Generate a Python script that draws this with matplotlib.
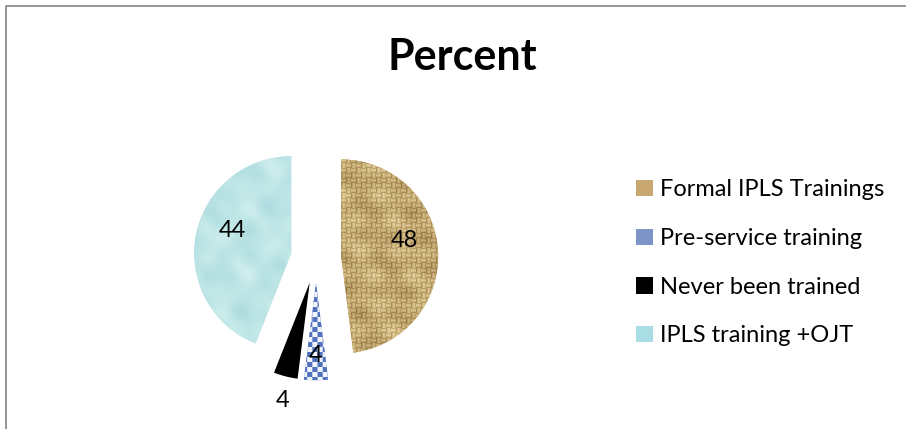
import numpy as np
import matplotlib
matplotlib.use("Agg")
import matplotlib.pyplot as plt
from matplotlib.patches import Patch
from matplotlib.lines import Line2D
from matplotlib.colors import to_rgb

# ---- data -------------------------------------------------------------
categories = ["Formal IPLS Trainings", "Pre-service training",
              "Never been trained", "IPLS training +OJT"]
values = [48, 4, 4, 44]
title = "Percent"

# ---- figure / axes geometry (pixels) ---------------------------------
W, H = 906, 429
R_PX = 97          # pie radius in pixels
LIM = 1.65         # half-range of the pie axes in radius units
CX, CY = 316, 258  # pie centre, pixels from top-left

FONT = ["Lato", "DejaVu Sans"]
plt.rcParams["font.family"] = FONT

fig = plt.figure(figsize=(W / 100, H / 100), dpi=100)
ax = fig.add_axes([(CX - LIM * R_PX) / W, (H - CY - LIM * R_PX) / H,
                   2 * LIM * R_PX / W, 2 * LIM * R_PX / H])

base_colors = ["#c6a96f", "#5b79c2", "#000000", "#b2e1e5"]
wedges, _ = ax.pie(values, startangle=90, counterclock=False,
                   explode=[0.26] * len(values), colors=base_colors,
                   radius=1, wedgeprops=dict(linewidth=0))
ax.set_xlim(-LIM, LIM)
ax.set_ylim(-LIM, LIM)
ax.set_aspect("equal", adjustable="box")
ax.axis("off")


# ---- fill textures ----------------------------------------------------
def mix(c0, c1, t):
    c0 = np.array(to_rgb(c0)); c1 = np.array(to_rgb(c1))
    t = np.clip(t, 0, 1)[..., None]
    return c0 + (c1 - c0) * t


def burlap(X, Y):
    p = 5.0
    cell = (np.floor(X / p) + np.floor(Y / p)) % 2
    thread = np.where(cell == 0, np.abs(np.sin(np.pi * Y / p)),
                      np.abs(np.sin(np.pi * X / p)))
    low = (np.sin(X / 13.0 + Y / 7.0) * np.sin(Y / 11.0 - X / 17.0)
           + 0.5 * np.sin(X / 5.3 - 0.4) * np.sin(Y / 6.1 + 1.1))
    return mix("#8c6c34", "#ead5a0", 0.22 + 0.55 * thread + 0.15 * low)


def checker(X, Y):
    s = 5.0
    c = (np.floor(X / s) + np.floor(Y / s)) % 2
    return mix("#5272c0", "#f2f6fc", c)


def droplets(X, Y):
    v = (np.sin(X / 9.0) * np.sin(Y / 11.0)
         + 0.6 * np.sin((X + Y) / 7.0 + 1.3) * np.sin((X - Y) / 13.0)
         + 0.4 * np.sin(X / 4.5 + 0.7) * np.sin(Y / 5.5 + 2.1))
    v = (v - v.min()) / (v.max() - v.min() + 1e-9)
    return mix("#a0d5da", "#d8f3f1", 0.25 + 0.6 * v)


textures = [burlap, checker, None, droplets]
for w, tex in zip(wedges, textures):
    if tex is None:
        continue
    ext = w.get_path().get_extents()
    x0, y0, x1, y1 = ext.x0, ext.y0, ext.x1, ext.y1
    nx = int((x1 - x0) * R_PX) + 2
    ny = int((y1 - y0) * R_PX) + 2
    X, Y = np.meshgrid(x0 * R_PX + np.arange(nx), y0 * R_PX + np.arange(ny))
    img = tex(X, Y)
    im = ax.imshow(img, extent=(x0, x0 + nx / R_PX, y0, y0 + ny / R_PX),
                   origin="lower", interpolation="bilinear", zorder=2)
    im.set_clip_path(w)
ax.set_xlim(-LIM, LIM)
ax.set_ylim(-LIM, LIM)

# ---- value labels -----------------------------------------------------
label_rho = [0.67, 0.75, 1.25, 0.65]
label_turn = [10.4, 0.0, 1.6, -10.5]
for w, v, rho, turn in zip(wedges, values, label_rho, label_turn):
    ang = np.deg2rad((w.theta1 + w.theta2) / 2 + turn)
    x = w.center[0] + rho * w.r * np.cos(ang)
    y = w.center[1] + rho * w.r * np.sin(ang)
    ax.text(x, y, str(v), ha="center", va="center", fontsize=17,
            color="black", zorder=5)

# ---- title ------------------------------------------------------------
fig.text(462 / W, 1 - 70 / H, title, ha="center", va="baseline",
         fontsize=31, fontweight="bold")

# ---- legend -----------------------------------------------------------
legend_colors = ["#c8a870", "#7c95c6", "#000000", "#a8dde3"]
handles = [Patch(facecolor=c, edgecolor="none") for c in legend_colors]
fig.legend(handles, categories, loc="upper left",
           bbox_to_anchor=(627 / W, 1 - 170 / H), frameon=False,
           fontsize=17, handlelength=0.68, handleheight=0.68,
           handletextpad=0.3, labelspacing=1.17, borderaxespad=0)

# ---- chart-area border (left and top edges) --------------------------
bx = 5.5 / W
by = 1 - 5.5 / H
fig.add_artist(Line2D([bx, bx, 1], [0, by, by], transform=fig.transFigure,
                      color="#8c8c8c", linewidth=1.3))

fig.savefig("out.png", dpi=100)
